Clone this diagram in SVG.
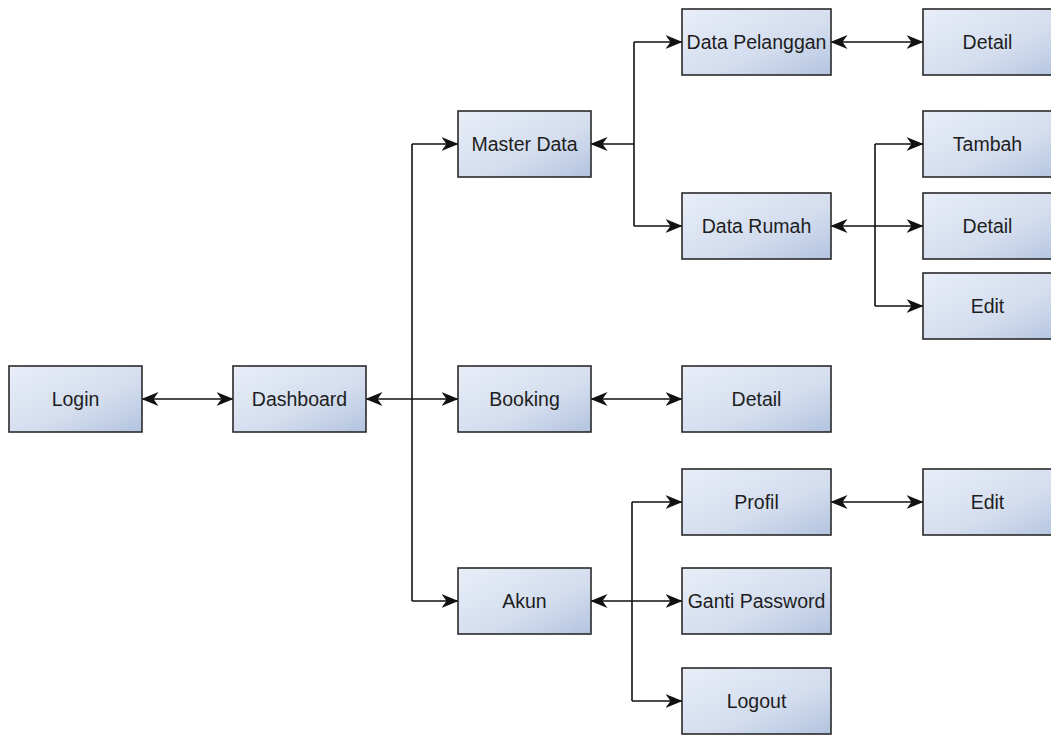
<svg xmlns="http://www.w3.org/2000/svg" width="1051" height="735" viewBox="0 0 1051 735">
<style>
.box{fill:url(#g);stroke:#2a2a2a;stroke-width:1.6}
.lbl{font-family:"Liberation Sans",Arial,sans-serif;font-size:19.5px;fill:#1e1e1e;text-anchor:middle}
.c{fill:none;stroke:#111;stroke-width:1.6}
.b{marker-start:url(#a);marker-end:url(#a)}
.e{marker-end:url(#a)}
.s{marker-start:url(#a)}
</style>
<defs>
<linearGradient id="g" x1="0" y1="0" x2="1" y2="1">
<stop offset="0" stop-color="#e9eef8"/>
<stop offset="0.6" stop-color="#d3ddee"/>
<stop offset="1" stop-color="#b3c3df"/>
</linearGradient>
<marker id="a" viewBox="0 0 17 14" refX="16.5" refY="7" markerWidth="17" markerHeight="14" markerUnits="userSpaceOnUse" orient="auto-start-reverse">
<path d="M0,0 L17,7 L0,14 L5,7 z" fill="#111"/>
</marker>
</defs>
<rect width="1051" height="735" fill="#fff"/>
<g id="connectors">
<path class="c b" d="M142,399 H233"/>
<path class="c b" d="M366,399 H458"/>
<path class="c" d="M412,144 V601"/>
<path class="c e" d="M412,144 H458"/>
<path class="c e" d="M412,601 H458"/>
<path class="c s" d="M591,144 H634"/>
<path class="c" d="M634,42 V226"/>
<path class="c e" d="M634,42 H682"/>
<path class="c e" d="M634,226 H682"/>
<path class="c b" d="M831,42 H923"/>
<path class="c b" d="M831,226 H923"/>
<path class="c" d="M875,144 V306"/>
<path class="c e" d="M875,144 H923"/>
<path class="c e" d="M875,306 H923"/>
<path class="c b" d="M591,399 H682"/>
<path class="c b" d="M591,601 H682"/>
<path class="c" d="M632,502 V701"/>
<path class="c e" d="M632,502 H682"/>
<path class="c e" d="M632,701 H682"/>
<path class="c b" d="M831,502 H923"/>
</g>
<g id="login"><rect class="box" x="9" y="366" width="133" height="66"/><text class="lbl" x="75.5" y="406">Login</text></g>
<g id="dashboard"><rect class="box" x="233" y="366" width="133" height="66"/><text class="lbl" x="299.5" y="406">Dashboard</text></g>
<g id="masterdata"><rect class="box" x="458" y="111" width="133" height="66"/><text class="lbl" x="524.5" y="151">Master Data</text></g>
<g id="booking"><rect class="box" x="458" y="366" width="133" height="66"/><text class="lbl" x="524.5" y="406">Booking</text></g>
<g id="akun"><rect class="box" x="458" y="568" width="133" height="66"/><text class="lbl" x="524.5" y="608">Akun</text></g>
<g id="datapelanggan"><rect class="box" x="682" y="9" width="149" height="66"/><text class="lbl" x="756.5" y="49">Data Pelanggan</text></g>
<g id="datarumah"><rect class="box" x="682" y="193" width="149" height="66"/><text class="lbl" x="756.5" y="233">Data Rumah</text></g>
<g id="bookingdetail"><rect class="box" x="682" y="366" width="149" height="66"/><text class="lbl" x="756.5" y="406">Detail</text></g>
<g id="profil"><rect class="box" x="682" y="469" width="149" height="66"/><text class="lbl" x="756.5" y="509">Profil</text></g>
<g id="gantipassword"><rect class="box" x="682" y="568" width="149" height="66"/><text class="lbl" x="756.5" y="608">Ganti Password</text></g>
<g id="logout"><rect class="box" x="682" y="668" width="149" height="66"/><text class="lbl" x="756.5" y="708">Logout</text></g>
<g id="pelanggandetail"><rect class="box" x="923" y="9" width="140" height="66"/><text class="lbl" x="987.5" y="49">Detail</text></g>
<g id="tambah"><rect class="box" x="923" y="111" width="140" height="66"/><text class="lbl" x="987.5" y="151">Tambah</text></g>
<g id="rumahdetail"><rect class="box" x="923" y="193" width="140" height="66"/><text class="lbl" x="987.5" y="233">Detail</text></g>
<g id="rumahedit"><rect class="box" x="923" y="273" width="140" height="66"/><text class="lbl" x="987.5" y="313">Edit</text></g>
<g id="profiledit"><rect class="box" x="923" y="469" width="140" height="66"/><text class="lbl" x="987.5" y="509">Edit</text></g>
</svg>
